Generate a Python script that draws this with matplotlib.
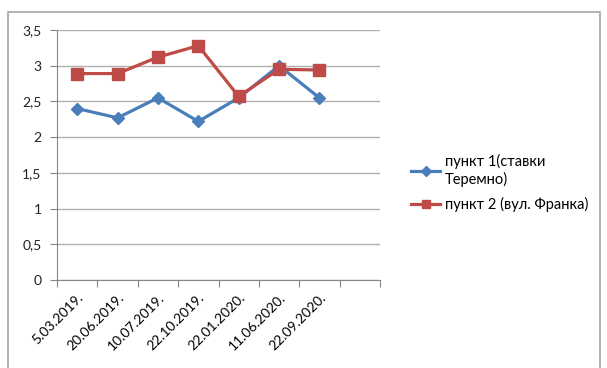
import matplotlib.pyplot as plt
from matplotlib.patches import Rectangle
from matplotlib.ticker import FuncFormatter

plt.rcParams['font.family'] = ['Lato', 'DejaVu Sans']

dates = ['5.03.2019.', '20.06.2019.', '10.07.2019.', '22.10.2019.',
         '22.01.2020.', '11.06.2020.', '22.09.2020.']
point1 = [2.40, 2.27, 2.55, 2.22, 2.55, 3.00, 2.55]
point2 = [2.89, 2.89, 3.12, 3.28, 2.57, 2.95, 2.94]
label1 = 'пункт 1(ставки\nТеремно)'
label2 = 'пункт 2 (вул. Франка)'

fig = plt.figure(figsize=(6.07, 3.68), dpi=100)
fig.patches.append(Rectangle((8 / 607, -0.1), 592 / 607, 1.1 - 12 / 368,
                             transform=fig.transFigure, fill=False,
                             edgecolor='#a6a6a6', linewidth=1.2))
ax = fig.add_axes([57 / 607, 1 - 280 / 368, 323 / 607, 250 / 368])

x = [i + 0.5 for i in range(len(dates))]
ax.plot(x, point1, color='#4a7ebb', marker='D', markersize=6.5, linewidth=2.3, label=label1)
ax.plot(x, point2, color='#be4b48', marker='s', markersize=8, linewidth=2.3, label=label2)

ax.set_xlim(0, 8)
ax.set_ylim(0, 3.5)
ax.set_yticks([i * 0.5 for i in range(8)])
ax.yaxis.set_major_formatter(FuncFormatter(lambda v, p: f'{v:g}'.replace('.', ',')))
ax.set_xticks(range(9))
ax.set_xticklabels([])
ax.set_xticks(x, minor=True)
ax.set_xticklabels(dates, minor=True, rotation=45, ha='right', rotation_mode='anchor')
ax.tick_params(axis='x', which='minor', length=0, pad=8)
ax.tick_params(axis='x', which='major', length=5, color='#868686', direction='out')
ax.tick_params(axis='y', length=5, color='#868686', pad=6)
ax.tick_params(labelsize=10, labelcolor='#222222')

ax.grid(axis='y', color='#b0b0b0', linewidth=1)
ax.set_axisbelow(True)
for s in ['top', 'right']:
    ax.spines[s].set_visible(False)
for s in ['left', 'bottom']:
    ax.spines[s].set_color('#868686')

fig.legend(loc='center left', bbox_to_anchor=(398 / 607, 1 - 183 / 368),
           frameon=False, fontsize=10.5, handlelength=2.0, handletextpad=0.3,
           markerscale=0.75, labelspacing=0.7)

plt.savefig('out.png', dpi=100)
